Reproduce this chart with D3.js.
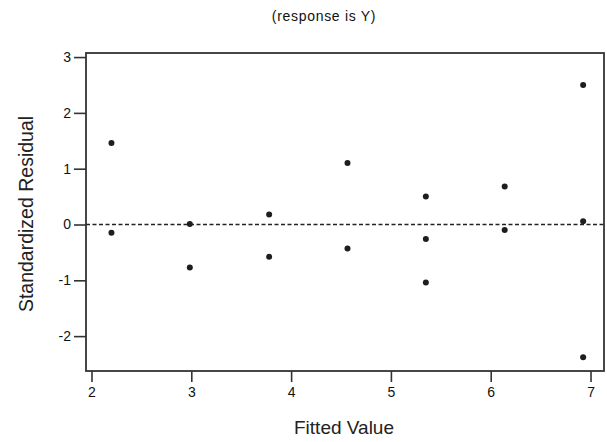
<!DOCTYPE html>
<html>
<head>
<meta charset="utf-8">
<script src="https://cdn.jsdelivr.net/npm/d3@7"></script>
<style>
    body { margin: 0; background: #fff; }
    svg { display: block; font-family: "Liberation Sans", Arial, sans-serif; }
    .axis text { font-size: 14px; fill: #111; }
    .axis line { stroke: #333; stroke-width: 1.6; }
    .axis path { display: none; }
</style>
</head>
<body>
<svg width="607" height="442"></svg>
<script>
// fitted values and their standardized residuals
var fittedValues = [
    2.2, 2.2,
    2.985, 2.985,
    3.78, 3.78,
    4.565, 4.565,
    5.35, 5.35, 5.35,
    6.14, 6.14,
    6.926, 6.926, 6.926
];
var residuals = [
    1.46, -0.15,
    0.01, -0.77,
    0.18, -0.58,
    1.10, -0.43,
    0.50, -0.26, -1.04,
    0.68, -0.10,
    2.50, 0.06, -2.38
];
var xTicks = [2, 3, 4, 5, 6, 7];
var yTicks = [-2, -1, 0, 1, 2, 3];

var margin = {
    top: 53, // px
    left: 86, // px
    bottom: 71, // px
    right: 3 // px
};
var svg = d3.select("svg");
var width = +svg.attr("width") - margin.left - margin.right;
var height = +svg.attr("height") - margin.top - margin.bottom;

var points = fittedValues.map(function (x, i) {
    return {x: x, y: residuals[i]};
});

// plain hyphen minus, no decimals
var plain = function (d) {
    return String(d);
};

var xScale = d3.scaleLinear()
    .domain([1.945, 7.135])
    .range([0, width]);
var yScale = d3.scaleLinear()
    .domain([-2.625, 3.073])
    .range([height, 0]);

var main = svg.append("g")
    .attr("transform", "translate(" + margin.left + "," + margin.top + ")");

main.append("g")
    .attr("class", "x axis")
    .attr("transform", "translate(0," + height + ")")
    .call(d3.axisBottom(xScale).tickValues(xTicks).tickFormat(plain)
        .tickSize(11).tickPadding(5));

main.append("g")
    .attr("class", "y axis")
    .call(d3.axisLeft(yScale).tickValues(yTicks).tickFormat(plain)
        .tickSize(12).tickPadding(3));

// reference line at zero
main.append("line")
    .attr("x1", 0)
    .attr("x2", width)
    .attr("y1", yScale(0))
    .attr("y2", yScale(0))
    .attr("stroke", "#222")
    .attr("stroke-width", 1.3)
    .attr("stroke-dasharray", "4,2.5");

main.selectAll("circle")
    .data(points)
    .enter()
    .append("circle")
    .attr("cx", function (d) { return xScale(d.x); })
    .attr("cy", function (d) { return yScale(d.y); })
    .attr("r", 3)
    .attr("fill", "#1e1e1e");

// frame
main.append("rect")
    .attr("width", width)
    .attr("height", height)
    .attr("fill", "none")
    .attr("stroke", "#333")
    .attr("stroke-width", 1.8);

svg.append("text")
    .attr("x", 324)
    .attr("y", 21)
    .attr("text-anchor", "middle")
    .style("font-size", "14px")
    .style("letter-spacing", "0.7px")
    .attr("fill", "#111")
    .text("(response is Y)");

svg.append("text")
    .attr("x", 344)
    .attr("y", 434)
    .attr("text-anchor", "middle")
    .style("font-size", "19px")
    .attr("fill", "#222")
    .text("Fitted Value");

svg.append("text")
    .attr("transform", "translate(33,214) rotate(-90)")
    .attr("text-anchor", "middle")
    .style("font-size", "19.5px")
    .attr("fill", "#222")
    .text("Standardized Residual");
</script>
</body>
</html>
